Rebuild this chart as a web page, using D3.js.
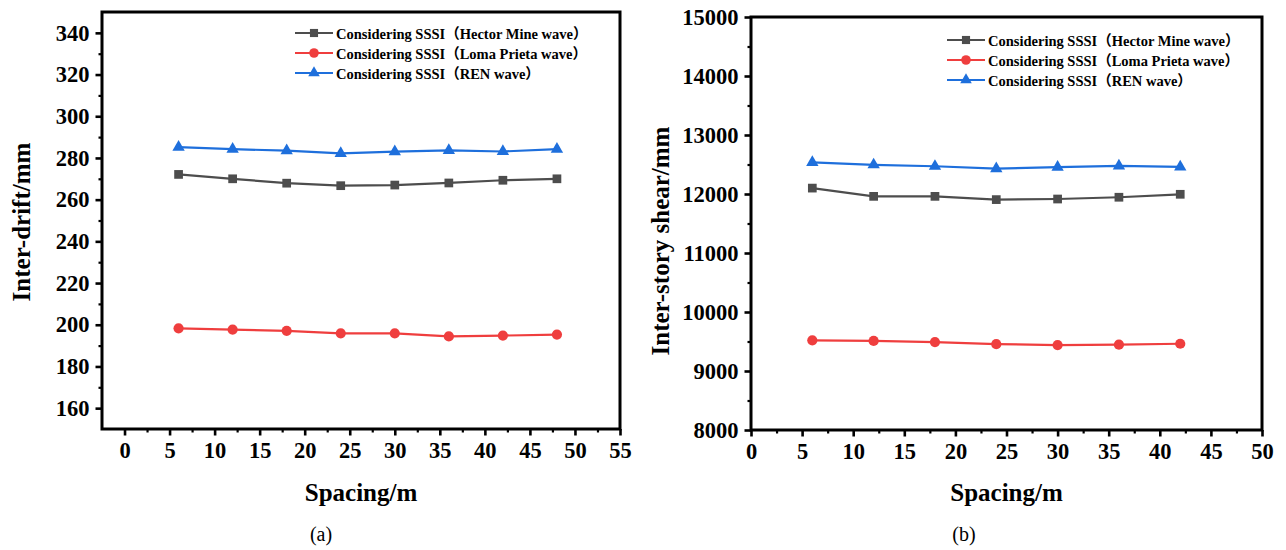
<!DOCTYPE html>
<html>
<head>
<meta charset="utf-8">
<script src="https://cdn.jsdelivr.net/npm/d3@7"></script>
<style>
  html, body { margin: 0; padding: 0; background: #fff; }
  svg { display: block; }
  svg text { font-family: "Liberation Serif", "DejaVu Serif", "Noto Sans CJK SC", serif; }
</style>
</head>
<body>
<svg id="fig" width="1286" height="550"></svg>
<script>
// ---- data ----
const seriesNames = [
  "Considering SSSI（Hector Mine wave）",
  "Considering SSSI（Loma Prieta wave）",
  "Considering SSSI（REN wave）"
];
const seriesColors = ["#4d4d4d", "#ef3e3e", "#1e6fdc"];
const seriesSymbols = ["square", "circle", "triangle"];

// panel (a): inter-story drift
const spacingA = [6, 12, 18, 24, 30, 36, 42, 48];
const driftHector = [272.1, 270.0, 267.9, 266.7, 267.0, 268.0, 269.3, 270.0];
const driftLoma   = [198.3, 197.7, 197.1, 195.9, 195.9, 194.4, 194.8, 195.3];
const driftREN    = [285.2, 284.2, 283.5, 282.2, 283.0, 283.6, 283.1, 284.2];
const xTicksA = [0, 5, 10, 15, 20, 25, 30, 35, 40, 45, 50, 55];
const yTicksA = [160, 180, 200, 220, 240, 260, 280, 300, 320, 340];

// panel (b): inter-story shear
const spacingB = [6, 12, 18, 24, 30, 36, 42];
const shearHector = [12100, 11960, 11960, 11905, 11915, 11945, 11995];
const shearLoma   = [9520, 9510, 9490, 9455, 9440, 9447, 9462];
const shearREN    = [12535, 12495, 12470, 12430, 12455, 12475, 12460];
const xTicksB = [0, 5, 10, 15, 20, 25, 30, 35, 40, 45, 50];
const yTicksB = [8000, 9000, 10000, 11000, 12000, 13000, 14000, 15000];

const svg = d3.select("#fig");

function symbolFor(name, size) {
  const t = name === "square" ? d3.symbolSquare : name === "circle" ? d3.symbolCircle : d3.symbolTriangle;
  return d3.symbol().type(t).size(size)();
}

function styleTicks(a, width) {
  a.select(".domain").remove();
  a.attr("font-family", null);
  a.selectAll("line").attr("stroke", "#000").attr("stroke-width", width);
  a.selectAll("text").attr("fill", "#000").attr("font-size", 22.5).attr("font-weight", "bold");
}

function drawPanel(cfg) {
  const x = d3.scaleLinear().domain(cfg.xDomain).range([cfg.left, cfg.right]);
  const y = d3.scaleLinear().domain(cfg.yDomain).range([cfg.bottom, cfg.top]);
  const g = svg.append("g");

  // minor ticks
  const xMinor = d3.axisBottom(x).tickValues(cfg.xMinor).tickSize(3.5).tickFormat("");
  const yMinor = d3.axisLeft(y).tickValues(cfg.yMinor).tickSize(3.5).tickFormat("");
  g.append("g").attr("transform", `translate(0,${cfg.bottom})`).call(xMinor).call(a => styleTicks(a, 2.2));
  g.append("g").attr("transform", `translate(${cfg.left},0)`).call(yMinor).call(a => styleTicks(a, 2.2));

  // major ticks with labels
  const xAxis = d3.axisBottom(x).tickValues(cfg.xTicks).tickSize(6.5).tickPadding(7).tickFormat(d3.format("d"));
  const yAxis = d3.axisLeft(y).tickValues(cfg.yTicks).tickSize(6.5).tickPadding(6).tickFormat(d3.format("d"));
  g.append("g").attr("transform", `translate(0,${cfg.bottom})`).call(xAxis).call(a => styleTicks(a, 2.6));
  g.append("g").attr("transform", `translate(${cfg.left},0)`).call(yAxis).call(a => styleTicks(a, 2.6));

  // frame
  g.append("rect")
    .attr("x", cfg.left).attr("y", cfg.top)
    .attr("width", cfg.right - cfg.left).attr("height", cfg.bottom - cfg.top)
    .attr("fill", "none").attr("stroke", "#000").attr("stroke-width", 3);

  // series
  const line = d3.line().x(d => x(d[0])).y(d => y(d[1]));
  cfg.series.forEach((vals, i) => {
    const pts = cfg.xs.map((xv, k) => [xv, vals[k]]);
    g.append("path").datum(pts).attr("d", line)
      .attr("fill", "none").attr("stroke", seriesColors[i]).attr("stroke-width", 2.2);
    g.selectAll(null).data(pts).enter().append("path")
      .attr("transform", d => `translate(${x(d[0])},${y(d[1])})`)
      .attr("d", symbolFor(seriesSymbols[i], seriesSymbols[i] === "triangle" ? 66 : seriesSymbols[i] === "circle" ? 82 : 76))
      .attr("fill", seriesColors[i]);
  });

  // legend
  const lg = g.append("g").attr("transform", `translate(${cfg.legendX},${cfg.legendY})`);
  seriesNames.forEach((name, i) => {
    const row = lg.append("g").attr("transform", `translate(0,${i * 20})`);
    row.append("line").attr("x1", 0).attr("x2", 38).attr("y1", 0).attr("y2", 0)
      .attr("stroke", seriesColors[i]).attr("stroke-width", 2.2);
    row.append("path").attr("transform", "translate(19,0)")
      .attr("d", symbolFor(seriesSymbols[i], seriesSymbols[i] === "triangle" ? 58 : seriesSymbols[i] === "circle" ? 72 : 66))
      .attr("fill", seriesColors[i]);
    row.append("text").attr("x", 41).attr("y", 5.5)
      .attr("font-size", 14.5).attr("font-weight", "bold").attr("fill", "#000")
      .text(name);
  });

  // axis titles
  g.append("text")
    .attr("x", (cfg.left + cfg.right) / 2).attr("y", 501)
    .attr("text-anchor", "middle").attr("font-size", 25).attr("font-weight", "bold")
    .text("Spacing/m");
  g.append("text")
    .attr("transform", `translate(${cfg.yTitleX},${cfg.yTitleY}) rotate(-90)`)
    .attr("text-anchor", "middle").attr("font-size", 25).attr("font-weight", "bold")
    .text(cfg.yTitle);

  // panel label
  g.append("text")
    .attr("x", cfg.panelX).attr("y", 541)
    .attr("text-anchor", "middle").attr("font-size", 20)
    .text(cfg.panel);
}

drawPanel({
  left: 102, right: 620, top: 12, bottom: 429,
  xDomain: [-2.5, 55], yDomain: [150, 350],
  xTicks: xTicksA, yTicks: yTicksA,
  xMinor: d3.range(2.5, 55, 5), yMinor: d3.range(170, 350, 20),
  xs: spacingA, series: [driftHector, driftLoma, driftREN],
  legendX: 295, legendY: 33,
  yTitle: "Inter-drift/mm", yTitleX: 30, yTitleY: 222,
  panel: "(a)", panelX: 321
});

drawPanel({
  left: 751, right: 1262, top: 17, bottom: 430,
  xDomain: [0, 50], yDomain: [8000, 15000],
  xTicks: xTicksB, yTicks: yTicksB,
  xMinor: d3.range(2.5, 50, 5), yMinor: d3.range(8500, 15000, 1000),
  xs: spacingB, series: [shearHector, shearLoma, shearREN],
  legendX: 947, legendY: 40,
  yTitle: "Inter-story shear/mm", yTitleX: 669, yTitleY: 241,
  panel: "(b)", panelX: 964
});
</script>
</body>
</html>
